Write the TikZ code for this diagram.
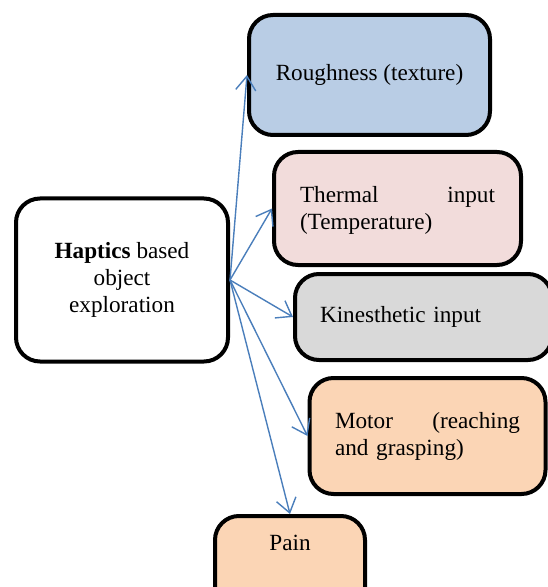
\documentclass[tikz,border=0pt]{standalone}
\usepackage{fontspec}
\setmainfont{Liberation Serif}
\usetikzlibrary{arrows.meta}

\definecolor{linkblue}{HTML}{4A7EBB}
\definecolor{roughblue}{HTML}{B9CDE5}
\definecolor{thermpink}{HTML}{F2DCDB}
\definecolor{kingray}{HTML}{D9D9D9}
\definecolor{peach}{HTML}{FBD5B5}

\begin{document}
\begin{tikzpicture}[
		x=0.5pt, y=-0.5pt,
		>={Straight Barb[length=7pt, width=10pt]},
		box/.style={draw=black, line width=2pt, rounded corners=12pt, font=\fontsize{11.6}{13.5}\selectfont},
		link/.style={->, draw=linkblue, line width=0.7pt}
		]
		
		\useasboundingbox (0,0) rectangle (547,587);
		
		% --- 1. The central box ---
		\node[box, fill=white, minimum width=106pt, minimum height=81.5pt, align=center] (hub) at (122,280) {\textbf{Haptics} based\\object\\exploration};
		
		% --- 2. The inputs ---
		\node[box, fill=roughblue, minimum width=120.5pt, minimum height=60pt] (rough) at (369.5,75) {Roughness (texture)};
		\node[box, fill=thermpink, minimum width=123.5pt, minimum height=56.5pt, text width=97.5pt, inner xsep=13pt, align=left] (therm) at (397.5,208.5) {\rule{0pt}{10pt}Thermal\hfill input\\(Temperature)};
		\node[box, fill=kingray, minimum width=128.5pt, minimum height=43pt, text width=103.5pt, inner xsep=12.5pt, align=left] (kin) at (423.5,317) {Kinesthetic input};
		\node[box, fill=peach, minimum width=118pt, minimum height=58pt, text width=92.5pt, inner xsep=12.75pt, align=left] (motor) at (427.5,436) {Motor\hfill(reaching\\and grasping)};
		\node[box, fill=peach, anchor=north, minimum width=75pt, inner ysep=0pt, text height=17pt, text depth=35pt] (pain) at (290,514) {Pain};
		
		% Arrows out of the central box
		\draw[link] (hub.east) -- (rough.west);
		\draw[link] (hub.east) -- (therm.west);
		\draw[link] (hub.east) -- (kin.west);
		\draw[link] (hub.east) -- (motor.west);
		\draw[link] (hub.east) -- (pain.north);
		
	\end{tikzpicture}
\end{document}
